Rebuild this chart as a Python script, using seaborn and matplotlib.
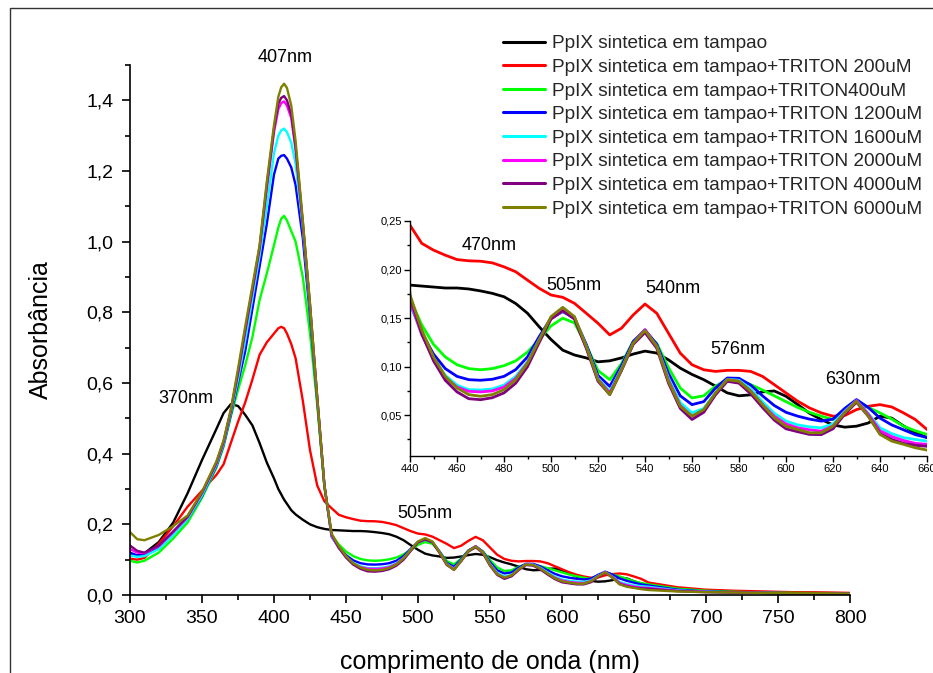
import matplotlib
matplotlib.use("Agg")
import matplotlib.pyplot as plt
import numpy as np
import pandas as pd
import seaborn as sns
from matplotlib.ticker import MultipleLocator, FuncFormatter
from matplotlib.patches import Rectangle

# ---------------- data ----------------
WAVELENGTH = [300, 305, 310, 320, 330, 340, 350, 360, 365, 370, 375, 380, 385, 390, 395,
              400, 403, 405, 407, 409, 412, 415, 420, 425, 430, 435,
              440, 445, 450, 455, 460, 465, 470, 475, 480, 485, 490, 495, 500, 505, 510,
              515, 520, 525, 530, 535, 540, 545, 550, 555, 560, 565, 570, 575, 580, 585,
              590, 595, 600, 605, 610, 615, 620, 625, 630, 635, 640, 645, 650, 655, 660,
              680, 700, 720, 740, 760, 780, 800]

BUFFER = [0.115, 0.112, 0.118, 0.150, 0.205, 0.288, 0.382, 0.470, 0.515, 0.540, 0.535,
          0.510, 0.480, 0.430, 0.375, 0.330, 0.300, 0.285, 0.270, 0.258, 0.240, 0.228,
          0.213, 0.200, 0.192, 0.187,
          0.184, 0.183, 0.182, 0.181, 0.181, 0.180, 0.178, 0.1755, 0.172, 0.165, 0.155,
          0.141, 0.128, 0.117, 0.112, 0.109, 0.105, 0.106, 0.109, 0.113, 0.116, 0.114,
          0.107, 0.0985, 0.092, 0.0866, 0.080, 0.073, 0.070, 0.071, 0.074, 0.075, 0.0695,
          0.061, 0.052, 0.0456, 0.040, 0.0377, 0.0387, 0.042, 0.049, 0.047, 0.039, 0.032,
          0.027,
          0.018, 0.013, 0.010, 0.008, 0.007, 0.006, 0.005]

TRITON_200 = [0.103, 0.100, 0.105, 0.145, 0.195, 0.250, 0.295, 0.340, 0.370, 0.430, 0.490,
              0.545, 0.610, 0.680, 0.715, 0.740, 0.755, 0.759, 0.755, 0.740, 0.710, 0.670,
              0.550, 0.410, 0.310, 0.265,
              0.2456, 0.227, 0.220, 0.2148, 0.2103, 0.209, 0.2086, 0.2069, 0.2028, 0.1977,
              0.1891, 0.1806, 0.1738, 0.1714, 0.1652, 0.155, 0.1447, 0.1327, 0.1396, 0.1533,
              0.1645, 0.155, 0.1344, 0.1139, 0.102, 0.0968, 0.0951, 0.0962, 0.0962, 0.0951,
              0.090, 0.0815, 0.0729, 0.0644, 0.0575, 0.0524, 0.049, 0.0497, 0.0558, 0.0592,
              0.0609, 0.0585, 0.0524, 0.0456, 0.0353,
              0.022, 0.015, 0.012, 0.010, 0.008, 0.007, 0.006]

TRITON_400 = [0.097, 0.092, 0.097, 0.120, 0.160, 0.205, 0.275, 0.360, 0.420, 0.505, 0.580,
              0.650, 0.730, 0.835, 0.910, 0.990, 1.040, 1.065, 1.073, 1.060, 1.030, 1.000,
              0.900, 0.740, 0.540, 0.305,
              0.170, 0.143, 0.123, 0.110, 0.102, 0.098, 0.0968, 0.098, 0.101, 0.106, 0.115,
              0.128, 0.142, 0.1499, 0.145, 0.122, 0.096, 0.0866, 0.103, 0.126, 0.1362, 0.124,
              0.099, 0.078, 0.0678, 0.070, 0.080, 0.0866, 0.086, 0.0815, 0.076, 0.070, 0.064,
              0.058, 0.053, 0.049, 0.0456, 0.055, 0.0644, 0.058, 0.0524, 0.046, 0.0387,
              0.034, 0.0302,
              0.018, 0.012, 0.009, 0.007, 0.006, 0.005, 0.005]

TRITON_1200 = [0.120, 0.112, 0.112, 0.132, 0.172, 0.215, 0.280, 0.365, 0.425, 0.510, 0.600,
               0.690, 0.810, 0.930, 1.050, 1.190, 1.235, 1.243, 1.245, 1.235, 1.210, 1.160,
               1.010, 0.790, 0.550, 0.310,
               0.165, 0.135, 0.113, 0.098, 0.090, 0.0866, 0.086, 0.087, 0.090, 0.097, 0.110,
               0.131, 0.150, 0.1567, 0.150, 0.123, 0.091, 0.0797, 0.101, 0.126, 0.1379, 0.123,
               0.093, 0.070, 0.0609, 0.064, 0.078, 0.0883, 0.088, 0.081, 0.070, 0.060, 0.053,
               0.049, 0.046, 0.0439, 0.046, 0.057, 0.0661, 0.058, 0.047, 0.040, 0.035, 0.030,
               0.027,
               0.015, 0.010, 0.008, 0.006, 0.005, 0.005, 0.004]

TRITON_1600 = [0.112, 0.108, 0.110, 0.130, 0.170, 0.215, 0.282, 0.368, 0.428, 0.515, 0.610,
               0.720, 0.840, 0.960, 1.100, 1.250, 1.300, 1.315, 1.320, 1.310, 1.280, 1.220,
               1.040, 0.810, 0.555, 0.310,
               0.166, 0.133, 0.109, 0.091, 0.081, 0.0763, 0.076, 0.077, 0.081, 0.090, 0.105,
               0.128, 0.150, 0.157, 0.150, 0.121, 0.088, 0.0746, 0.098, 0.124, 0.137, 0.121,
               0.088, 0.063, 0.0524, 0.057, 0.073, 0.087, 0.086, 0.077, 0.064, 0.052, 0.044,
               0.040, 0.038, 0.037, 0.041, 0.054, 0.065, 0.052, 0.037, 0.031, 0.027, 0.025,
               0.0233,
               0.013, 0.009, 0.007, 0.006, 0.005, 0.005, 0.004]

TRITON_2000 = [0.130, 0.120, 0.118, 0.138, 0.178, 0.220, 0.288, 0.372, 0.432, 0.520, 0.625,
               0.745, 0.860, 0.980, 1.150, 1.310, 1.375, 1.392, 1.397, 1.385, 1.350, 1.260,
               1.050, 0.820, 0.560, 0.310,
               0.168, 0.133, 0.108, 0.089, 0.079, 0.0746, 0.074, 0.075, 0.079, 0.088, 0.104,
               0.127, 0.150, 0.158, 0.150, 0.120, 0.087, 0.0729, 0.097, 0.124, 0.138, 0.121,
               0.086, 0.060, 0.049, 0.055, 0.072, 0.0866, 0.085, 0.075, 0.061, 0.049, 0.041,
               0.037, 0.035, 0.0336, 0.039, 0.053, 0.065, 0.051, 0.034, 0.028, 0.024, 0.021,
               0.020,
               0.012, 0.009, 0.007, 0.006, 0.005, 0.005, 0.004]

TRITON_4000 = [0.140, 0.125, 0.120, 0.140, 0.180, 0.222, 0.290, 0.375, 0.435, 0.522, 0.630,
               0.750, 0.865, 0.985, 1.160, 1.320, 1.390, 1.407, 1.412, 1.400, 1.360, 1.270,
               1.055, 0.820, 0.560, 0.310,
               0.172, 0.134, 0.106, 0.086, 0.074, 0.067, 0.066, 0.068, 0.073, 0.083, 0.100,
               0.125, 0.149, 0.1574, 0.149, 0.119, 0.085, 0.0712, 0.096, 0.123, 0.1351, 0.119,
               0.083, 0.057, 0.0456, 0.053, 0.071, 0.0849, 0.083, 0.072, 0.058, 0.045, 0.036,
               0.033, 0.0302, 0.030, 0.036, 0.051, 0.0634, 0.049, 0.031, 0.025, 0.021, 0.019,
               0.018,
               0.011, 0.008, 0.007, 0.006, 0.005, 0.005, 0.004]

TRITON_6000 = [0.178, 0.158, 0.155, 0.170, 0.195, 0.225, 0.292, 0.378, 0.438, 0.525, 0.640,
               0.760, 0.875, 0.990, 1.170, 1.330, 1.410, 1.437, 1.447, 1.435, 1.385, 1.285,
               1.060, 0.825, 0.560, 0.310,
               0.174, 0.138, 0.110, 0.090, 0.078, 0.0712, 0.0695, 0.0712, 0.0763, 0.0866,
               0.1036, 0.1276, 0.1515, 0.1611, 0.1515, 0.1208, 0.0866, 0.0712, 0.0968, 0.1242,
               0.1372, 0.1208, 0.0849, 0.0592, 0.049, 0.0558, 0.0729, 0.0866, 0.0849, 0.0746,
               0.0609, 0.0473, 0.0387, 0.0353, 0.0319, 0.0319, 0.0387, 0.0524, 0.0644, 0.049,
               0.0302, 0.0233, 0.020, 0.0165, 0.0141,
               0.010, 0.008, 0.007, 0.006, 0.005, 0.005, 0.004]

SERIES_LABELS = ["PpIX sintetica em tampao",
                 "PpIX sintetica em tampao+TRITON 200uM",
                 "PpIX sintetica em tampao+TRITON400uM",
                 "PpIX sintetica em tampao+TRITON 1200uM",
                 "PpIX sintetica em tampao+TRITON 1600uM",
                 "PpIX sintetica em tampao+TRITON 2000uM",
                 "PpIX sintetica em tampao+TRITON 4000uM",
                 "PpIX sintetica em tampao+TRITON 6000uM"]
SERIES_VALUES = [BUFFER, TRITON_200, TRITON_400, TRITON_1200, TRITON_1600,
                 TRITON_2000, TRITON_4000, TRITON_6000]
SERIES_COLORS = ["#000000", "#FF0000", "#00FF00", "#0000FF", "#00FFFF",
                 "#FF00FF", "#800080", "#808000"]

MAIN_PEAK_LABELS = [("407nm", 407.5, 1.522), ("370nm", 338.9, 0.557), ("505nm", 505.0, 0.230)]
INSET_PEAK_LABELS = [("470nm", 473.7, 0.225), ("505nm", 509.6, 0.184), ("540nm", 551.8, 0.1806),
                     ("576nm", 579.4, 0.1173), ("630nm", 628.6, 0.0866)]

# ---------------- build long table ----------------
frames = []
for lab, vals in zip(SERIES_LABELS, SERIES_VALUES):
    frames.append(pd.DataFrame({"wl": WAVELENGTH, "A": vals, "serie": lab}))
df = pd.concat(frames, ignore_index=True)

sns.set_theme(style="ticks")
plt.rcParams["font.family"] = ["Liberation Sans", "DejaVu Sans"]
plt.rcParams["axes.linewidth"] = 1.2

W, H = 933, 673
fig = plt.figure(figsize=(W / 100, H / 100), dpi=100)
fig.patch.set_facecolor("white")

def fx(px):
    return px / W

def fy(py):
    return 1 - py / H

# main axes
ax = fig.add_axes([fx(130), fy(595), fx(850) - fx(130), fy(65) - fy(595)])
sns.lineplot(data=df, x="wl", y="A", hue="serie", hue_order=SERIES_LABELS,
             palette=SERIES_COLORS, ax=ax, linewidth=1.7, errorbar=None, legend=True)
handles, labels = ax.get_legend_handles_labels()
ax.get_legend().remove()

ax.set_xlim(300, 800)
ax.set_ylim(0, 1.5)
ax.xaxis.set_major_locator(MultipleLocator(50))
ax.xaxis.set_minor_locator(MultipleLocator(25))
ax.yaxis.set_major_locator(MultipleLocator(0.2))
ax.yaxis.set_minor_locator(MultipleLocator(0.1))
ax.yaxis.set_major_formatter(FuncFormatter(lambda v, p: f"{v:.1f}".replace(".", ",")))
ax.tick_params(which="major", direction="out", length=6, width=1.2, labelsize=14,
               color="black", labelcolor="black", pad=5)
ax.tick_params(which="minor", direction="out", length=3.5, width=1.2, color="black")
ax.tick_params(axis="y", which="major", pad=6)
sns.despine(ax=ax)
for s in ["left", "bottom"]:
    ax.spines[s].set_color("black")
ax.set_xlabel("comprimento de onda (nm)", fontsize=18, color="black", labelpad=16)
ax.set_ylabel("Absorbância", fontsize=18, color="black", labelpad=24)
ax.set_facecolor("white")

for txt, x, y in MAIN_PEAK_LABELS:
    ax.text(x, y, txt, fontsize=13, ha="center", va="center", color="black", clip_on=False)

# inset axes
axin = fig.add_axes([fx(410), fy(456), fx(927) - fx(410), fy(221) - fy(456)])
sns.lineplot(data=df, x="wl", y="A", hue="serie", hue_order=SERIES_LABELS,
             palette=SERIES_COLORS, ax=axin, linewidth=2.0, errorbar=None, legend=False)
axin.set_xlim(440, 660)
axin.set_ylim(0.008, 0.25)
axin.xaxis.set_major_locator(MultipleLocator(20))
axin.xaxis.set_minor_locator(MultipleLocator(10))
axin.yaxis.set_major_locator(MultipleLocator(0.05))
axin.yaxis.set_minor_locator(MultipleLocator(0.025))
axin.yaxis.set_major_formatter(FuncFormatter(lambda v, p: f"{v:.2f}".replace(".", ",")))
axin.tick_params(which="major", direction="out", length=4, width=1.0, labelsize=8,
                 color="black", labelcolor="black", pad=2)
axin.tick_params(which="minor", direction="out", length=2.5, width=1.0, color="black")
sns.despine(ax=axin)
for s in ["left", "bottom"]:
    axin.spines[s].set_color("black")
    axin.spines[s].set_linewidth(1.0)
axin.set_xlabel("")
axin.set_ylabel("")
axin.patch.set_alpha(0)
for txt, x, y in INSET_PEAK_LABELS:
    axin.text(x, y, txt, fontsize=13, ha="center", va="center", color="black", clip_on=False)

# legend
for h in handles:
    h.set_linewidth(2.2)
fig.legend(handles, labels, loc="upper left", bbox_to_anchor=(fx(503), fy(35)),
           frameon=False, fontsize=13.7, handlelength=2.2, handletextpad=0.35,
           labelspacing=0.33, borderpad=0, borderaxespad=0)

# outer frame
fig.add_artist(Rectangle((fx(10), -0.5), 2.0, fy(8) + 0.5, transform=fig.transFigure,
                         fill=False, edgecolor="#333333", linewidth=1.0))

fig.savefig("out.png", dpi=100)
